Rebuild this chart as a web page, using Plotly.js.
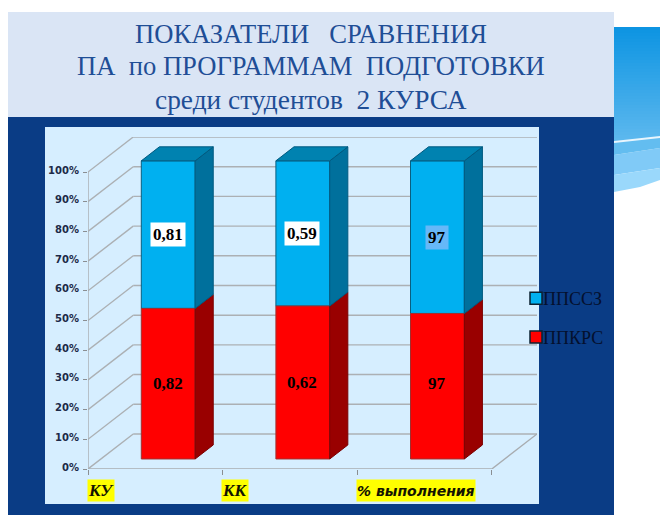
<!DOCTYPE html>
<html><head><meta charset="utf-8">
<script src="https://cdn.plot.ly/plotly-3.0.1.min.js"></script>
<style>html,body{margin:0;padding:0;background:#fff;overflow:hidden}#c{width:660px;height:515px}</style>
</head><body><div id="c"></div>
<script>
const categories = ['КУ', 'КК', '% выполнения'];
const seriesRedName = 'ППКРС';
const seriesBlueName = 'ППССЗ';
const redShare = [50.7, 51.5, 49];
const blueShare = [49.7, 48.9, 51.4];
const redLabels = ['0,82', '0,62', '97'];
const blueLabels = ['0,81', '0,59', '97'];
const blueLabelBg = ['#ffffff', '#ffffff', '#66b8f8'];
const yTicks = [0, 10, 20, 30, 40, 50, 60, 70, 80, 90, 100];

const W = 660, H = 515;
const M = {l: 88, r: 123, t: 137, b: 46};
const DX = 0.336, DY = 11.8;            // floor depth in axis units
const D0 = 0.286, D1 = 0.686;           // bar front / back depth
const BW = 0.4;
const px = x => (x - M.l) / (W - M.l - M.r);
const py = y => (H - M.b - y) / (H - M.t - M.b);
const serif = '"Liberation Serif", serif';

const poly = (xs, ys, fill, edge) => ({type: 'scatter', mode: 'lines', x: xs, y: ys, fill: 'toself',
  fillcolor: fill, line: {color: edge, width: 1}, hoverinfo: 'skip', showlegend: false});

const traces = [];
// side and top faces drawn from the same shares as the bars
const cx = categories.map((_, i) => i + 0.5 + DX * D0);
const base0 = DY * D0;
const dx = DX * (D1 - D0), dy = DY * (D1 - D0);
categories.forEach((_, i) => {
  const r = cx[i] + BW / 2, l = cx[i] - BW / 2;
  const a = base0, b = base0 + redShare[i], c = b + blueShare[i];
  traces.push(poly([r, r + dx, r + dx, r, r], [a, a + dy, b + dy, b, a], '#990000', '#7a0000'));
  traces.push(poly([r, r + dx, r + dx, r, r], [b, b + dy, c + dy, c, b], '#00709c', '#005a80'));
  traces.push(poly([l, l + dx, r + dx, r, l], [c, c + dy, c + dy, c, c], '#0082b0', '#005a80'));
});

// real bars: blue first so that it leads the legend
traces.push({type: 'bar', name: seriesBlueName, x: cx, y: blueShare, width: BW,
  base: redShare.map(v => v + base0),
  marker: {color: '#00b0f0', line: {color: '#0a5f80', width: 1}}, hoverinfo: 'skip', legendgroup: 'a'});
traces.push({type: 'bar', name: seriesRedName, x: cx, y: redShare, width: BW,
  base: redShare.map(() => base0),
  marker: {color: '#ff0000', line: {color: '#a03030', width: 1}}, hoverinfo: 'skip', legendgroup: 'b'});

const ann = [];
categories.forEach((c, i) => {
  ann.push({xref: 'x', yref: 'y', x: cx[i] - 0.005, y: base0 + redShare[i] / 2, yshift: i === 2 ? 3 : 0, text: '<b>' + redLabels[i] + '</b>',
    showarrow: false, font: {family: serif, size: 17, color: '#000'}});
  ann.push({xref: 'x', yref: 'y', x: cx[i] - 0.005, y: base0 + redShare[i] + blueShare[i] / 2, text: '<b>' + blueLabels[i] + '</b>',
    showarrow: false, font: {family: serif, size: 17, color: '#000'}, bgcolor: blueLabelBg[i], borderpad: 2});
  ann.push({xref: 'x', yref: 'paper', x: i, y: py(490.5), xanchor: 'left', yanchor: 'middle', xshift: -1.5,
    text: '<b><i>' + c + '</i></b>', showarrow: false, bgcolor: '#ffff00', borderpad: 0, height: 21,
    font: {family: i === 2 ? '"DejaVu Sans", sans-serif' : serif, size: i === 2 ? 14 : 17, color: '#141400'}});
});

const rect = (x0, y0, x1, y1, fill) => ({type: 'rect', xref: 'paper', yref: 'paper', layer: 'below',
  x0: px(x0), x1: px(x1), y0: py(y0), y1: py(y1), fillcolor: fill, line: {width: 0}});
const shapes = [];
// background wave: vertical gradient built from thin bands
const N = 38, c0 = [13, 148, 226], c1 = [92, 184, 238];
for (let k = 0; k < N; k++) {
  const col = c0.map((v, j) => Math.round(v + (c1[j] - v) * k / (N - 1)));
  shapes.push(rect(614, 27 + k * 3, 660, 27 + (k + 1) * 3 + 0.5, 'rgb(' + col.join(',') + ')'));
}
const pathOf = pts => 'M' + pts.map(p => px(p[0]) + ',' + py(p[1])).join('L') + 'Z';
const pathShape = (pts, fill) => ({type: 'path', xref: 'paper', yref: 'paper', layer: 'below', path: pathOf(pts),
  fillcolor: fill, line: {width: 0}});
shapes.push(pathShape([[614,155],[660,148],[660,168],[614,175]], '#80caf7'));
shapes.push(pathShape([[614,175],[660,168],[660,180],[640,187],[614,192]], '#9ad8fb'));
shapes.push(pathShape([[614,142],[660,136],[660,148],[614,155]], '#63bdf0'));
shapes.push(pathShape([[614,141],[660,136],[660,138],[614,143]], '#e8f5fd'));
shapes.push(rect(8, 12, 614, 117, '#dae5f5'));
shapes.push(rect(8, 117, 614, 515, '#0a3c85'));
shapes.push(rect(45, 127, 539, 504, '#d6eeff'));

// walls and floor, behind the bars
const segs = (pts, color) => pts.slice(1).map((p, i) => ({type: 'line', xref: 'x', yref: 'y', layer: 'below',
  x0: pts[i][0], y0: pts[i][1], x1: p[0], y1: p[1], line: {color, width: 1.4}}));
yTicks.forEach(v => {
  shapes.push(...segs([[0, v], [DX, v + DY], [3 + DX, v + DY]], '#acb0b4'));
});
shapes.push(...segs([[0, 0], [0, 100]], '#a8acb0'));
shapes.push(...segs([[0, 0], [3, 0], [3 + DX, DY]], '#a8acb0'));

const titleLines = ['ПОКАЗАТЕЛИ\u00a0\u00a0\u00a0СРАВНЕНИЯ', 'ПА\u00a0\u00a0по ПРОГРАММАМ\u00a0\u00a0ПОДГОТОВКИ', 'среди студентов\u00a0\u00a02 КУРСА'];
const titleY = [34, 66, 100];
const titleSize = [26.6, 26.6, 27.4];
titleLines.forEach((t, i) => ann.push({xref: 'paper', yref: 'paper', x: px(311), y: py(titleY[i]),
  text: t, showarrow: false, xanchor: 'center', yanchor: 'middle',
  font: {family: serif, size: titleSize[i], color: '#1f4e96'}}));

const layout = {
  width: W, height: H, margin: M, paper_bgcolor: 'rgba(0,0,0,0)', plot_bgcolor: 'rgba(0,0,0,0)',
  barmode: 'overlay', shapes, annotations: ann, hovermode: false,
  showlegend: true,
  legend: {x: px(503), y: py(280), xanchor: 'left', yanchor: 'top', bgcolor: 'rgba(0,0,0,0)', traceorder: 'grouped',
    tracegroupgap: 12.5, itemwidth: 30, borderwidth: 0, font: {family: serif, size: 18, color: '#04102e'}},
  xaxis: {range: [0, 3 + DX], tickvals: [0, 1, 2, 3], ticktext: ['', '', '', ''], ticks: 'outside', ticklen: 5,
    tickcolor: '#8a8e92', showgrid: false, zeroline: false, showline: false, fixedrange: true},
  yaxis: {range: [0, 100 + DY], tickvals: yTicks, ticktext: yTicks.map(v => v + '%'), ticks: 'outside', ticklen: 4,
    tickcolor: '#8a8e92', showgrid: false, zeroline: false, showline: false, fixedrange: true,
    ticklabelstandoff: 2, ticklabelshift: -2,
    tickfont: {family: '"DejaVu Sans", sans-serif', size: 10, color: '#1c2a48', weight: 'bold'}}
};
Plotly.newPlot('c', traces, layout, {displayModeBar: false, staticPlot: true}).then(gd => {
  // legend swatches sit right next to their labels
  gd.querySelectorAll('.legendsymbols').forEach(s => s.setAttribute('transform', 'translate(13,0)'));
  gd.querySelectorAll('.legendsymbols path').forEach(p => { p.style.stroke = '#0a2030'; p.style.strokeWidth = '1.5px'; });
});
</script></body></html>
